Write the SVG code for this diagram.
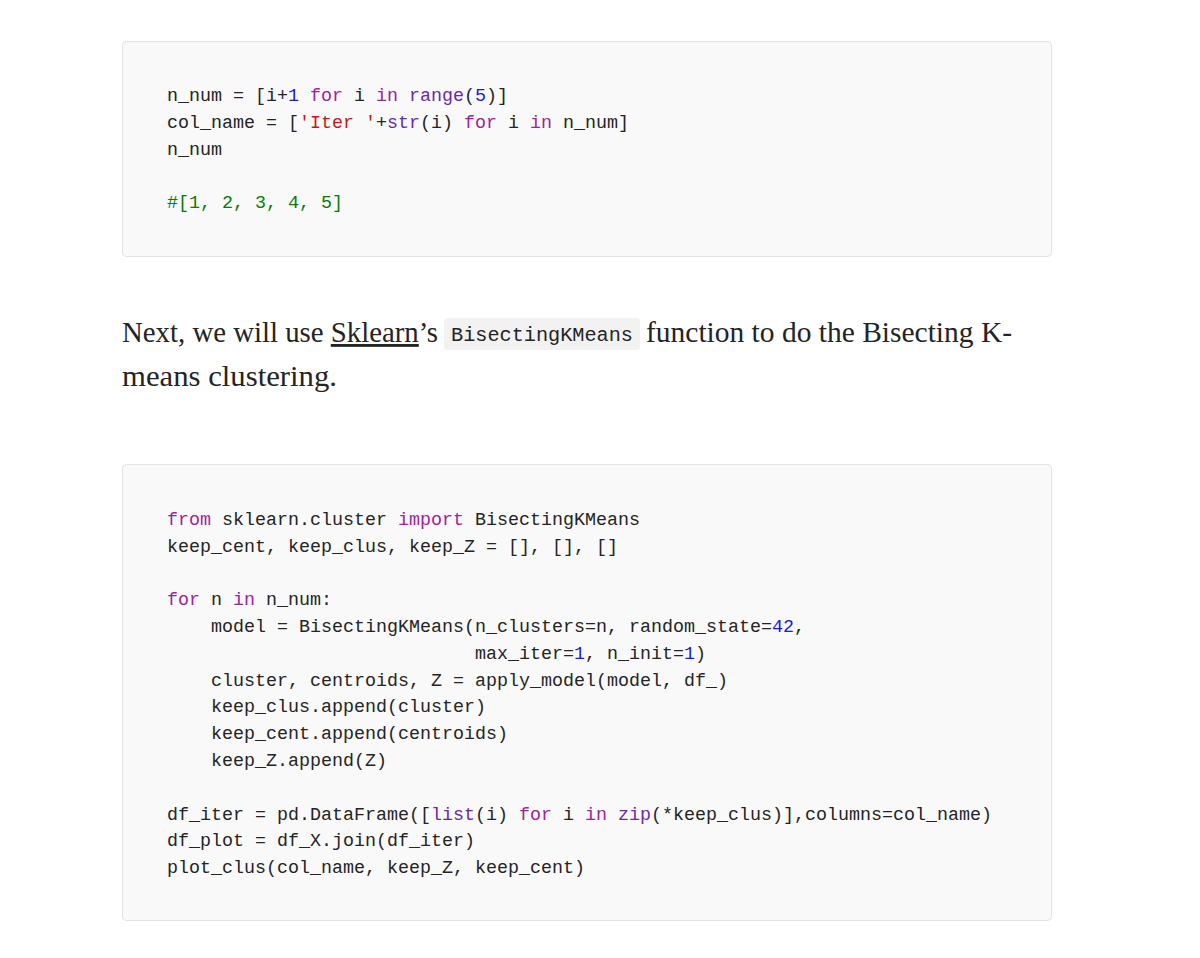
<svg xmlns="http://www.w3.org/2000/svg" width="1200" height="958" viewBox="0 0 1200 958">
<style>
.box{fill:#f9f9f9;stroke:#e3e3e3;stroke-width:1}
.code{font-family:"Liberation Mono","DejaVu Sans Mono",monospace;font-size:18.33px;fill:#242424;white-space:pre}
.k{fill:#a0229b}.n{fill:#1c1ccf}.b{fill:#6a2aa8}.s{fill:#c41a16}.c{fill:#0a7a0a}
.p{font-family:"Liberation Serif","DejaVu Serif",serif;font-size:28.5px;fill:#242424}
</style>
<rect width="1200" height="958" fill="#ffffff"/>
<g id="code1">
<rect class="box" x="122.5" y="41.5" width="929" height="215" rx="4"/>
<text class="code" xml:space="preserve"><tspan x="167" y="101">n_num = [i+<tspan class="n">1</tspan> <tspan class="k">for</tspan> i <tspan class="k">in</tspan> <tspan class="b">range</tspan>(<tspan class="n">5</tspan>)]</tspan><tspan x="167" y="127.8">col_name = [<tspan class="s">'Iter '</tspan>+<tspan class="b">str</tspan>(i) <tspan class="k">for</tspan> i <tspan class="k">in</tspan> n_num]</tspan><tspan x="167" y="154.5">n_num</tspan><tspan x="167" y="208" class="c">#[1, 2, 3, 4, 5]</tspan></text>
</g>
<g id="paragraph">
<text class="p" x="122" y="342" textLength="316" lengthAdjust="spacingAndGlyphs">Next, we will use <tspan text-decoration="underline">Sklearn</tspan>’s</text>
<rect x="444" y="318" width="196" height="32" rx="3" fill="#f2f2f2"/>
<text x="451" y="341" textLength="182" lengthAdjust="spacingAndGlyphs" style="font-family:'Liberation Mono','DejaVu Sans Mono',monospace;font-size:19.5px;fill:#242424">BisectingKMeans</text>
<text class="p" x="646" y="342" textLength="366" lengthAdjust="spacingAndGlyphs">function to do the Bisecting K-</text>
<text class="p" x="122" y="386" textLength="215" lengthAdjust="spacingAndGlyphs">means clustering.</text>
</g>
<g id="code2">
<rect class="box" x="122.5" y="464.5" width="929" height="456" rx="4"/>
<text class="code" xml:space="preserve"><tspan x="167" y="525"><tspan class="k">from</tspan> sklearn.cluster <tspan class="k">import</tspan> BisectingKMeans</tspan><tspan x="167" y="551.8">keep_cent, keep_clus, keep_Z = [], [], []</tspan><tspan x="167" y="605.3"><tspan class="k">for</tspan> n <tspan class="k">in</tspan> n_num:</tspan><tspan x="211" y="632.1">model = BisectingKMeans(n_clusters=n, random_state=<tspan class="n">42</tspan>,</tspan><tspan x="475" y="658.9">max_iter=<tspan class="n">1</tspan>, n_init=<tspan class="n">1</tspan>)</tspan><tspan x="211" y="685.7">cluster, centroids, Z = apply_model(model, df_)</tspan><tspan x="211" y="712.4">keep_clus.append(cluster)</tspan><tspan x="211" y="739.2">keep_cent.append(centroids)</tspan><tspan x="211" y="766">keep_Z.append(Z)</tspan><tspan x="167" y="819.5">df_iter = pd.DataFrame([<tspan class="b">list</tspan>(i) <tspan class="k">for</tspan> i <tspan class="k">in</tspan> <tspan class="b">zip</tspan>(*keep_clus)],columns=col_name)</tspan><tspan x="167" y="846.3">df_plot = df_X.join(df_iter)</tspan><tspan x="167" y="873.1">plot_clus(col_name, keep_Z, keep_cent)</tspan></text>
</g>
</svg>
